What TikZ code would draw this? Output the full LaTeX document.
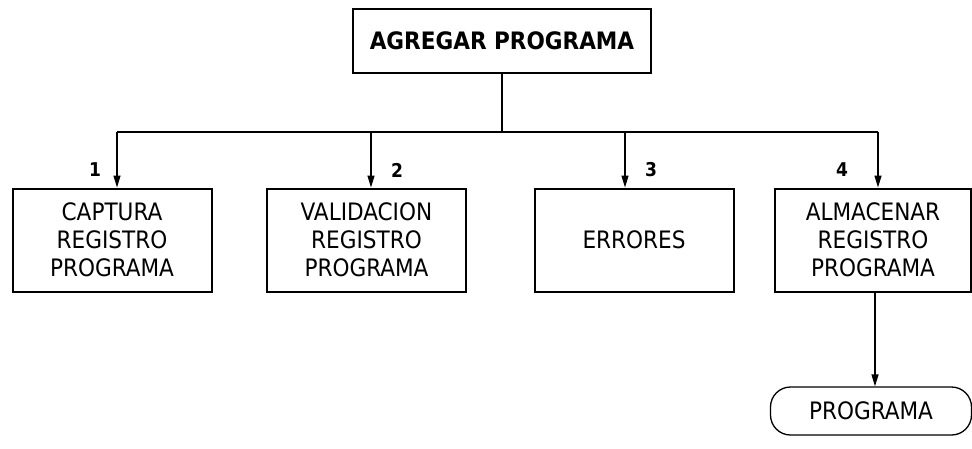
\documentclass[tikz,border=0pt]{standalone}
\usepackage{fontspec}
\setmainfont{DejaVu Sans Condensed}
\usetikzlibrary{arrows.meta}
\begin{document}
\begin{tikzpicture}[x=1pt,y=-1pt,
  procbox/.style={draw,line width=2pt,minimum width=199pt,minimum height=103pt,inner sep=0pt,align=center,font=\fontsize{24}{28}\selectfont},
  topbox/.style={draw,line width=2pt,minimum width=298pt,minimum height=64pt,inner sep=0pt,font=\fontsize{24}{28}\selectfont\bfseries},
  storebox/.style={draw,line width=1.3pt,rounded corners=20pt,minimum width=201pt,minimum height=48pt,inner sep=0pt,font=\fontsize{24}{28}\selectfont},
  numlabel/.style={font=\fontsize{19}{20}\selectfont\bfseries,inner sep=0pt},
  conn/.style={line width=1.3pt},
  arr/.style={conn,-{Triangle[length=12pt,width=7pt]}}]
\useasboundingbox (0,0) rectangle (972,448);
\node[topbox] (top) at (502,41) {AGREGAR PROGRAMA};
\node[procbox] (b1) at (112,240) {CAPTURA\\REGISTRO\\PROGRAMA};
\node[procbox] (b2) at (366.5,240) {VALIDACION\\REGISTRO\\PROGRAMA};
\node[procbox] (b3) at (634,240) {ERRORES};
\node[procbox,minimum width=196pt] (b4) at (873,240) {ALMACENAR\\REGISTRO\\PROGRAMA};
\node[storebox] (st) at (871,411) {PROGRAMA};
\coordinate (j) at (502,132);
\coordinate (h1) at (117,132);
\coordinate (h2) at (371,132);
\coordinate (h3) at (625,132);
\coordinate (h4) at (878,132);
\coordinate (s4) at (875,291);
\draw[conn] (top.south) -- (j);
\draw[conn] (h1) -- (h4);
\draw[arr] (h1) -- (h1 |- b1.north);
\draw[arr] (h2) -- (h2 |- b2.north);
\draw[arr] (h3) -- (h3 |- b3.north);
\draw[arr] (h4) -- (h4 |- b4.north);
\draw[arr] (s4) -- (s4 |- st.north);
\node[numlabel] (n1) at (95,170) {1};
\node[numlabel] (n2) at (397,170) {2};
\node[numlabel] (n3) at (651,170) {3};
\node[numlabel] (n4) at (842,170) {4};
\end{tikzpicture}
\end{document}
